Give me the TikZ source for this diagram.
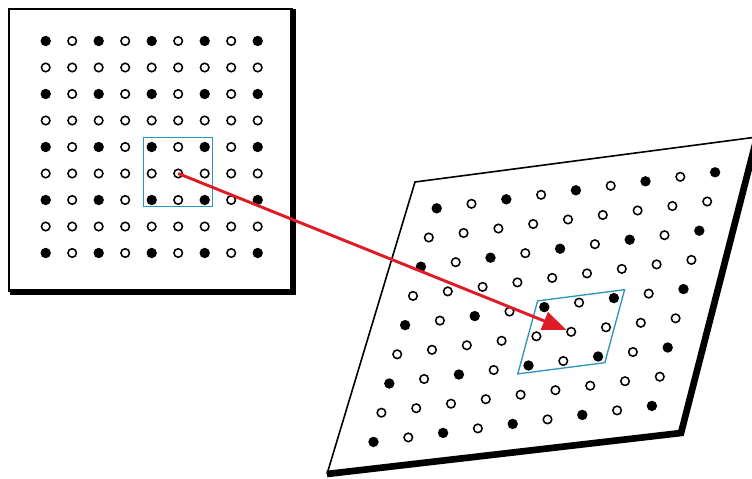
\documentclass[tikz,border=0pt]{standalone}
\usepackage{tikz}
\usetikzlibrary{arrows.meta}

\definecolor{cellblue}{RGB}{45,150,185}
\definecolor{arrred}{RGB}{222,28,38}

\begin{document}
\begin{tikzpicture}[x=0.75pt,y=-0.75pt,
  dotF/.style={circle,fill=black,inner sep=0pt,minimum size=7.8pt},
  dotO/.style={circle,draw=black,line width=1.15pt,fill=white,inner sep=0pt,minimum size=6.4pt},
  edgeT/.style={line width=1.2pt},
  edgeK/.style={line width=5pt,line join=miter},
  cell/.style={draw=cellblue,line width=1pt}]
\useasboundingbox (0,0) rectangle (752,478);
\clip (0,0) rectangle (752,478);
% square frame (left) and sheared frame (right), thick edges = shadow
\draw[edgeT] (9,292) -- (9,9) -- (293,9);
\draw[edgeK] (10,292) -- (293,292) -- (293,9);
\draw[edgeT] (327,474) -- (415,182) -- (757,137);
\draw[edgeK] (757,137) -- (681,433) -- (327,474);
% 9x9 lattice, filled where both indices are even
% right panel: same lattice after shear, a=(34.8,-4.5), b=(-7.9,29.2)
\foreach \i in {0,...,8}{
  \foreach \j in {0,...,8}{
    \pgfmathtruncatemacro\isfull{(1-mod(\i,2))*(1-mod(\j,2))}
    \ifnum\isfull=1 \def\st{dotF}\else\def\st{dotO}\fi
    \node[\st] (L-\i-\j) at ({45.7+26.5*\i},{41+26.5*\j}) {};
    \node[\st] (R-\i-\j) at ({436.7+34.8*\i-7.9*\j},{208.3-4.5*\i+29.2*\j}) {};
  }
}
% unit cells
\draw[cell] (143.5,137.5) rectangle (212.5,206.5);
\draw[cell] (537.6,300.9) -- (624.6,289.7) -- (604.8,362.7) -- (517.8,373.9) -- cycle;
% mapping
\draw[arrred,line width=2.2pt,-{Triangle[length=18pt,width=14pt]}] (L-5-5.center) -- (R-5-5);
\end{tikzpicture}
\end{document}
